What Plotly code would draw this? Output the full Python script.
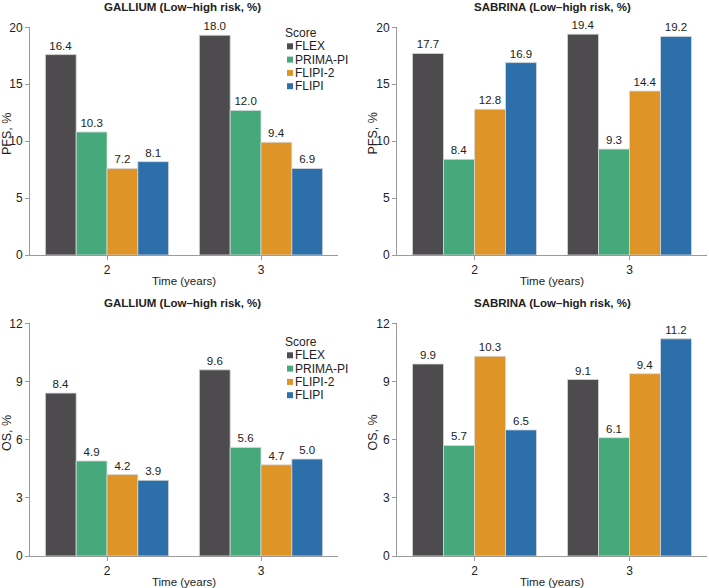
import plotly.graph_objects as go

W, H = 709, 588

years = ["2", "3"]
scores = ["FLEX", "PRIMA-PI", "FLIPI-2", "FLIPI"]
colors = ["#4e4b4e", "#45a97c", "#df9428", "#2c6fab"]

# GALLIUM PFS: bar heights as drawn in the picture, and printed labels
gallium_pfs_heights = [[17.6, 19.3], [10.8, 12.7], [7.6, 9.9], [8.2, 7.6]]
gallium_pfs_labels = [[16.4, 18.0], [10.3, 12.0], [7.2, 9.4], [8.1, 6.9]]
# SABRINA PFS
sabrina_pfs = [[17.7, 19.4], [8.4, 9.3], [12.8, 14.4], [16.9, 19.2]]
# GALLIUM OS
gallium_os = [[8.4, 9.6], [4.9, 5.6], [4.2, 4.7], [3.9, 5.0]]
# SABRINA OS
sabrina_os = [[9.9, 9.1], [5.7, 6.1], [10.3, 9.4], [6.5, 11.2]]

pfs_ticks = [0, 5, 10, 15, 20]
os_ticks = [0, 3, 6, 9, 12]

title_text = ["GALLIUM (Low\u2013high risk, %)", "SABRINA (Low\u2013high risk, %)"]
xtitle = "Time (years)"

FONT = "Liberation Sans, Arial, sans-serif"
TXT = "#222222"
AX = "#9a9a9a"
FS = 11.5

def px_x(p):
    return p / W

def px_y(p):
    return 1 - p / H

panels = [
    # (heights, labels, x-domain px, y-domain px(top,bottom), ticks, ytitle, title idx, ytitle pos)
    (gallium_pfs_heights, gallium_pfs_labels, (30, 338), (27.3, 255), pfs_ticks, "PFS, %", 0, (7, 134)),
    (sabrina_pfs, sabrina_pfs, (397, 707), (27.3, 255), pfs_ticks, "PFS, %", 1, (372.5, 134)),
    (gallium_os, gallium_os, (30, 338), (323.3, 556), os_ticks, "OS, %", 0, (7, 433)),
    (sabrina_os, sabrina_os, (397, 707), (323.3, 556), os_ticks, "OS, %", 1, (372.5, 433)),
]

fig = go.Figure()
layout = {}
annotations = []
shapes = []

for i, (hts, lbls, xd, yd, ticks, ytitle, ti, ypos) in enumerate(panels):
    n = "" if i == 0 else str(i + 1)
    xa, ya = "x" + n, "y" + n
    for s, name in enumerate(scores):
        fig.add_trace(go.Bar(
            x=years, y=hts[s], name=name,
            text=[f"{v:.1f}" for v in lbls[s]],
            textposition="outside", cliponaxis=False,
            textfont=dict(size=FS, color=TXT, family=FONT),
            marker=dict(color=colors[s], line=dict(color="#d8d8d8", width=0.8)),
            xaxis=xa, yaxis=ya, showlegend=False,
        ))
    layout["xaxis" + n] = dict(
        domain=[px_x(xd[0]), px_x(xd[1])], anchor=ya, type="category",
        range=[-0.5, 1.5], showline=True, linecolor=AX, linewidth=1,
        ticks="outside", ticklen=4, tickcolor=AX, showgrid=False,
        tickfont=dict(size=12, color=TXT, family=FONT),
        title=dict(text=xtitle, font=dict(size=FS, color=TXT, family=FONT), standoff=0),
        zeroline=False, automargin=False,
    )
    layout["yaxis" + n] = dict(
        domain=[px_y(yd[1]), px_y(yd[0])], anchor=xa,
        range=[0, ticks[-1]], tickvals=ticks, showline=True, linecolor=AX, linewidth=1,
        ticks="outside", ticklen=4, tickcolor=AX, showgrid=False, zeroline=False,
        tickfont=dict(size=12, color=TXT, family=FONT),
        automargin=False,
    )
    # y-axis title
    annotations.append(dict(
        text=ytitle, xref="paper", yref="paper", x=px_x(ypos[0]), y=px_y(ypos[1]),
        xanchor="center", yanchor="middle", textangle=-90, showarrow=False,
        font=dict(size=12.5, color=TXT, family=FONT),
    ))
    # panel title
    cx = (xd[0] + xd[1]) / 2 + (-2 if ti == 0 else 0)
    ty = yd[0] - 20
    annotations.append(dict(
        text="<b>" + title_text[ti] + "</b>",
        xref="paper", yref="paper", x=px_x(cx), y=px_y(ty),
        xanchor="center", yanchor="middle", showarrow=False,
        font=dict(size=FS, color=TXT, family=FONT),
    ))

# Legends (left panels) built from the score names and colours
for top in (33, 342):
    annotations.append(dict(
        text="Score", xref="paper", yref="paper", x=px_x(282.5), y=px_y(top),
        xanchor="left", yanchor="middle", showarrow=False,
        font=dict(size=12, color=TXT, family=FONT),
    ))
    for s, name in enumerate(scores):
        cy = top + 13.3 * (s + 1)
        shapes.append(dict(
            type="rect", xref="paper", yref="paper",
            x0=px_x(287), x1=px_x(293), y0=px_y(cy + 3), y1=px_y(cy - 3),
            fillcolor=colors[s], line=dict(width=0),
        ))
        annotations.append(dict(
            text=name, xref="paper", yref="paper", x=px_x(293), y=px_y(cy),
            xanchor="left", yanchor="middle", showarrow=False,
            font=dict(size=12, color=TXT, family=FONT),
        ))

fig.update_layout(
    **layout,
    annotations=annotations, shapes=shapes,
    barmode="group", bargap=0.2, bargroupgap=0,
    width=W, height=H, margin=dict(l=0, r=0, t=0, b=0, autoexpand=False),
    paper_bgcolor="white", plot_bgcolor="white",
    font=dict(family=FONT, size=FS, color=TXT),
    showlegend=False,
)

fig.write_html(
    "out.html",
    config={"displayModeBar": False},
    post_script="document.body.style.margin='0';document.body.style.overflow='hidden';",
)
